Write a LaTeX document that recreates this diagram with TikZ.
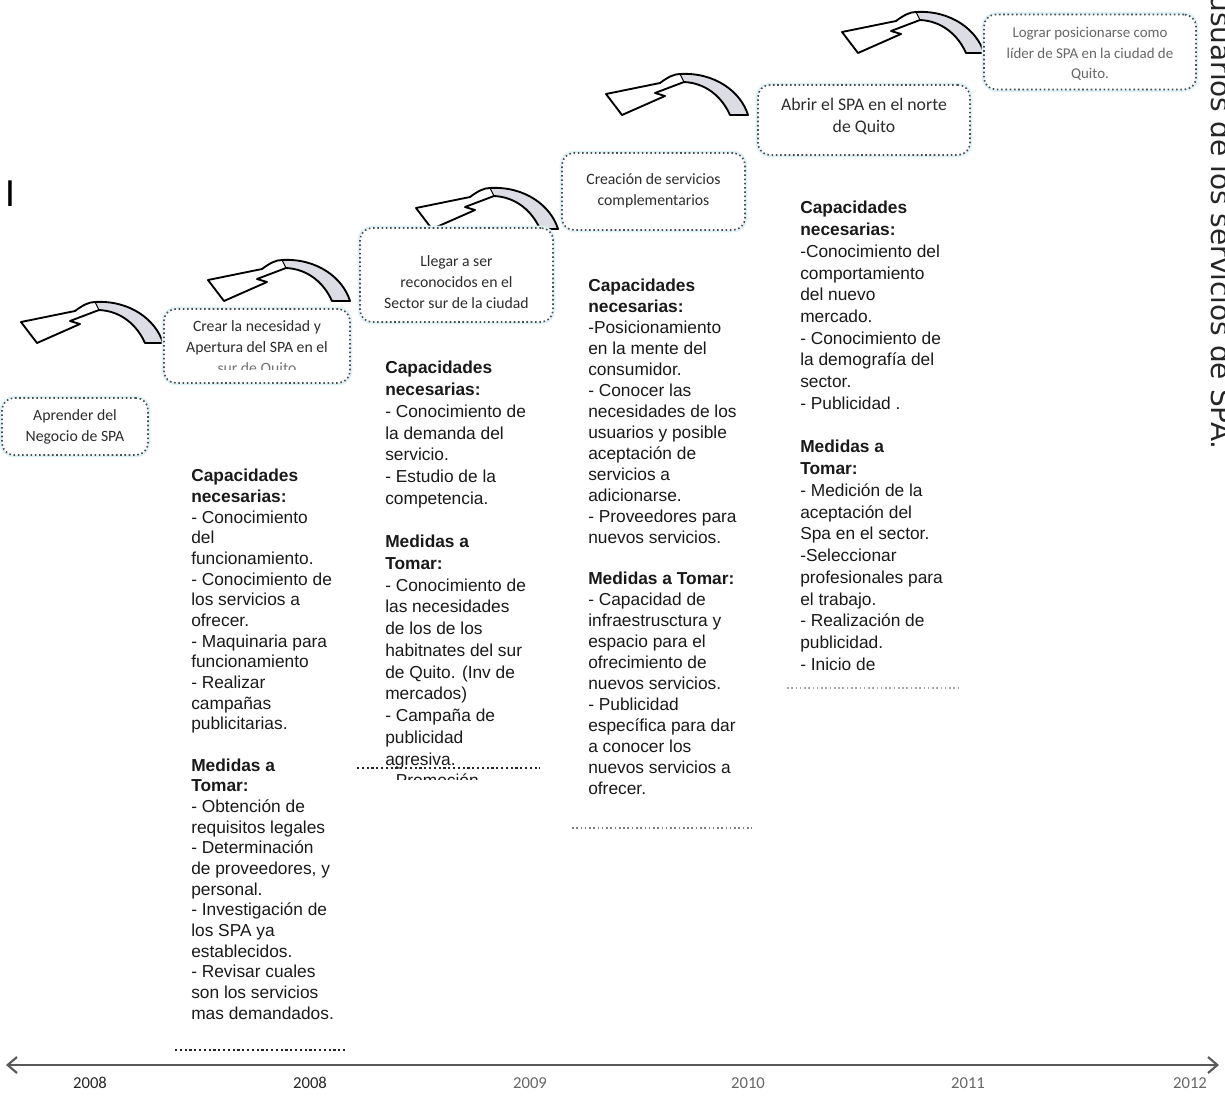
\documentclass[tikz,border=0pt]{standalone}
\usepackage{fontspec}
\setmainfont{Liberation Sans}
\newfontfamily\boxfont{Carlito}
\newfontfamily\sidefont{DejaVu Sans}
\usetikzlibrary{arrows.meta}
\definecolor{arrowgray}{RGB}{220,220,228}
\definecolor{glow}{RGB}{222,242,246}
\definecolor{boxtxt}{RGB}{45,45,45}
\begin{document}
\begin{tikzpicture}[x=0.75pt,y=-0.75pt,
  goalbox/.style={draw=black!70, dotted, line width=1.2pt, rounded corners=9pt, fill=white, inner sep=0pt,
     preaction={draw=glow, solid, line width=3.5pt}},
  boxtext/.style={font=\boxfont\fontsize{11.8}{15.75}\selectfont, text=boxtxt, align=center, inner sep=0pt},
  coltext/.style={font=\fontsize{13}{#1}\selectfont, align=left, anchor=north west, inner sep=0pt, text=black!90},
  endline/.style={dotted, line width=1.6pt},
  arrowline/.style={draw=black, line width=1.4pt, line join=round},
  timeline/.style={draw=black!65, line width=1.6pt, {Straight Barb[length=7pt,width=12pt]}-{Straight Barb[length=7pt,width=12pt]}},
  yearlabel/.style={font=\boxfont\fontsize{12.5}{14}\selectfont, inner sep=0pt},
  curvarrow/.pic={
    \path[fill=white] (0,0) -- (54,-11) .. controls (62,-17) and (68,-20) .. (74,-20) -- (78,-12) -- (49,-1) -- (59,2) -- (16,21) -- cycle;
    \path[fill=arrowgray] (74,-20) .. controls (109,-22) and (135,-2) .. (142,21) -- (124,21) .. controls (116,3) and (100,-11) .. (78,-12) -- cycle;
    \draw[arrowline] (0,0) -- (54,-11) .. controls (62,-17) and (68,-20) .. (74,-20) .. controls (109,-22) and (135,-2) .. (142,21) -- (124,21) .. controls (116,3) and (100,-11) .. (78,-12) -- (49,-1) -- (59,2) -- (16,21) -- cycle;
    \draw[arrowline, line width=0.8pt] (74,-20) -- (78,-12);
  }
]
\path[use as bounding box] (0,0) rectangle (1225,1096);
\clip (0,0) rectangle (1225,1096);

% side text (cut off at right edge)
\node[rotate=-90, anchor=base west, inner sep=0pt, font=\sidefont\fontsize{21}{24}\selectfont, text=black!85] (side) at (1211,-6) {usuarios de los servicios de SPA.};
\node[inner sep=0pt, font=\fontsize{28}{30}\selectfont] (bar) at (10,194) {I};

% curved arrows
\pic (a1) at (21,322) {curvarrow};
\pic (a2) at (208,280) {curvarrow};
\pic (a3) at (416,208) {curvarrow};
\pic (a4) at (606,94) {curvarrow};
\pic (a5) at (842,32) {curvarrow};

% goal boxes
\node[goalbox, minimum width=109.5pt, minimum height=42.75pt] (b1) at (75,426.5) {};
\node[boxtext] (t1) at (b1.center) {Aprender del\\Negocio de SPA};

\node[goalbox, minimum width=139.5pt, minimum height=55.5pt] (b2) at (257,346) {};
\begin{scope}
\clip (164,309) rectangle (350,369);
\node[boxtext] (t2) at (257,348) {Crear la necesidad y\\Apertura del SPA en el\\\textcolor{black!55}{sur de Quito}};
\end{scope}

\node[goalbox, minimum width=144.75pt, minimum height=70.5pt] (b3) at (456.5,275) {};
\node[boxtext] (t3) at (456.5,282) {Llegar a ser\\reconocidos en el\\Sector sur de la ciudad};

\node[goalbox, minimum width=137.25pt, minimum height=57.75pt] (b4) at (653.5,191.5) {};
\node[boxtext] (t4) at (653.5,191) {Creación de servicios\\complementarios};

\node[goalbox, minimum width=159pt, minimum height=52.5pt] (b5) at (864,120) {};
\node[boxtext, font=\boxfont\fontsize{13.3}{16.5}\selectfont] (t5) at (864,117) {Abrir el SPA en el norte\\de Quito};

\node[goalbox, minimum width=159pt, minimum height=56.25pt] (b6) at (1090,52) {};
\node[boxtext, font=\boxfont\fontsize{11.2}{15.2}\selectfont, text=black!60] (t6) at (1090,54) {Lograr posicionarse como\\líder de SPA en la ciudad de\\Quito.};

% columns
\node[coltext=15.5pt] (c1) at (191,469) {\textbf{Capacidades}\\
\textbf{necesarias:}\\
- Conocimiento\\
del\\
funcionamiento.\\
- Conocimiento de\\
los servicios a\\
ofrecer.\\
- Maquinaria para\\
funcionamiento\\
- Realizar\\
campañas\\
publicitarias.\\
~\\
\textbf{Medidas a}\\
\textbf{Tomar:}\\
- Obtención de\\
requisitos legales\\
- Determinación\\
de proveedores, y\\
personal.\\
- Investigación de\\
los SPA ya\\
establecidos.\\
- Revisar cuales\\
son los servicios\\
mas demandados.};

\begin{scope}
\clip (370,340) rectangle (560,779);
\node[coltext=16.3pt] (c2) at (385,361) {\textbf{Capacidades}\\
\textbf{necesarias:}\\
- Conocimiento de\\
la demanda del\\
servicio.\\
- Estudio de la\\
competencia.\\
~\\
\textbf{Medidas a}\\
\textbf{Tomar:}\\
- Conocimiento de\\
las necesidades\\
de los de los\\
habitnates del sur\\
de Quito. (Inv de\\
mercados)\\
- Campaña de\\
publicidad\\
agresiva.\\
- Promoción};
\end{scope}

\node[coltext=15.7pt] (c3) at (588,279) {\textbf{Capacidades}\\
\textbf{necesarias:}\\
-Posicionamiento\\
en la mente del\\
consumidor.\\
- Conocer las\\
necesidades de los\\
usuarios y posible\\
aceptación de\\
servicios a\\
adicionarse.\\
- Proveedores para\\
nuevos servicios.\\
~\\
\textbf{Medidas a Tomar:}\\
- Capacidad de\\
infraestrusctura y\\
espacio para el\\
ofrecimiento de\\
nuevos servicios.\\
- Publicidad\\
específica para dar\\
a conocer los\\
nuevos servicios a\\
ofrecer.};

\node[coltext=16.3pt] (c4) at (800,201) {\textbf{Capacidades}\\
\textbf{necesarias:}\\
-Conocimiento del\\
comportamiento\\
del nuevo\\
mercado.\\
- Conocimiento de\\
la demografía del\\
sector.\\
- Publicidad .\\
~\\
\textbf{Medidas a}\\
\textbf{Tomar:}\\
- Medición de la\\
aceptación del\\
Spa en el sector.\\
-Seleccionar\\
profesionales para\\
el trabajo.\\
- Realización de\\
publicidad.\\
- Inicio de};

% column end lines
\coordinate (e1a) at (175,1050); \coordinate (e1b) at (345,1050);
\coordinate (e2a) at (357,768);  \coordinate (e2b) at (540,768);
\coordinate (e3a) at (572,828);  \coordinate (e3b) at (752,828);
\coordinate (e4a) at (787,688);  \coordinate (e4b) at (960,688);
\draw[endline, black!85] (e1a) -- (e1b);
\draw[endline, black!85] (e2a) -- (e2b);
\draw[endline, black!50, line width=1.2pt] (e3a) -- (e3b);
\draw[endline, black!35, line width=1.2pt] (e4a) -- (e4b);

% timeline
\coordinate (tla) at (6,1065); \coordinate (tlb) at (1219,1065);
\draw[timeline] (tla) -- (tlb);
\node[yearlabel, text=black!85] (y1) at (90,1083) {2008};
\node[yearlabel, text=black!85] (y2) at (310,1083) {2008};
\node[yearlabel, text=black!60] (y3) at (530,1083) {2009};
\node[yearlabel, text=black!60] (y4) at (748,1083) {2010};
\node[yearlabel, text=black!60] (y5) at (968,1083) {2011};
\node[yearlabel, text=black!60] (y6) at (1190,1083) {2012};
\end{tikzpicture}
\end{document}
